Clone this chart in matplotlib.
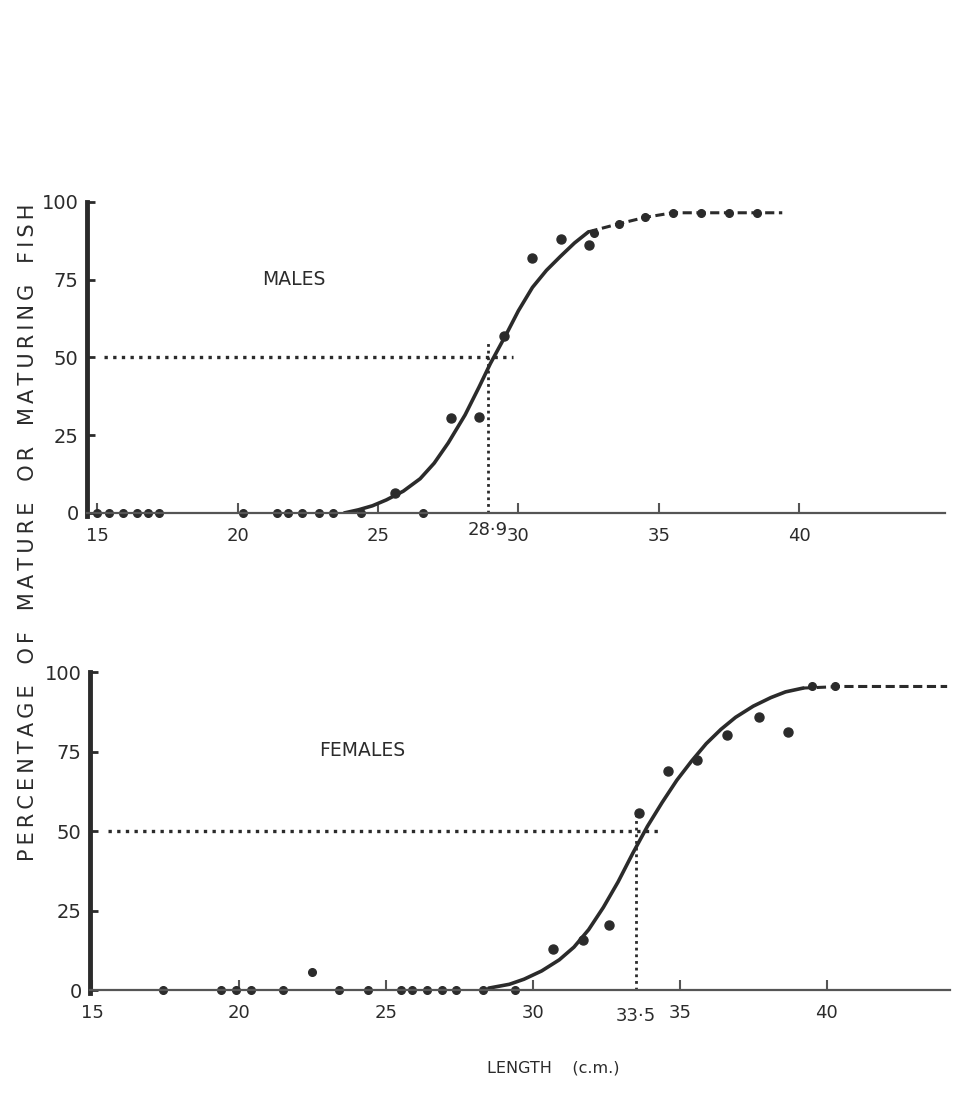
import matplotlib
matplotlib.use("Agg")
import matplotlib.pyplot as plt

# ---- data ----
# males
male_len = [25.6, 27.6, 28.6, 29.5, 30.5, 31.5, 32.5]
male_pct = [6.5, 30.5, 31.0, 57.0, 82.0, 88.0, 86.0]
male_zero_len = [15.0, 15.4, 15.9, 16.4, 16.8, 17.2, 20.2, 21.4, 21.8,
                 22.3, 22.9, 23.4, 24.4, 26.6]
male_top_len = [32.7, 33.6, 34.5, 35.5, 36.5, 37.5, 38.5]
male_top_pct = [90.0, 93.0, 95.0, 96.5, 96.5, 96.5, 96.5]
male_plateau_len = [32.5, 33.6, 34.5, 35.5, 36.5, 37.5, 38.5, 39.4]
male_plateau_pct = [90.4, 93.0, 95.0, 96.5, 96.5, 96.5, 96.5, 96.5]
male_curve_len = [23.8, 24.3, 24.8, 25.3, 25.9, 26.5, 27.0, 27.5, 28.1, 28.6,
                  29.0, 29.6, 30.0, 30.5, 31.0, 31.5, 32.0, 32.5]
male_curve_pct = [0.0, 1.0, 2.3, 4.2, 7.0, 11.0, 16.0, 22.5, 31.5, 40.5,
                  48.0, 58.0, 65.0, 72.5, 78.0, 82.5, 86.8, 90.4]
male_l50 = 28.9

# females
fem_len = [30.7, 31.7, 32.6, 33.6, 34.6, 35.6, 36.6, 37.7, 38.7]
fem_pct = [12.9, 15.7, 20.4, 55.7, 68.9, 72.3, 80.2, 85.8, 81.1]
fem_zero_len = [17.4, 19.4, 19.9, 20.4, 21.5, 23.4, 24.4, 25.5, 25.9,
                26.4, 26.9, 27.4, 28.3, 29.4]
fem_odd_len = [22.5]
fem_odd_pct = [5.7]
fem_top_len = [39.5, 40.3]
fem_top_pct = [95.5, 95.5]
fem_plateau_len = [39.2, 40.5, 42.0, 43.0, 44.1]
fem_plateau_pct = [95.0, 95.5, 95.5, 95.5, 95.5]
fem_curve_len = [28.5, 29.2, 29.7, 30.3, 30.9, 31.4, 31.9, 32.4, 32.9, 33.4,
                 33.9, 34.4, 34.9, 35.4, 35.9, 36.4, 36.9, 37.5, 38.1, 38.6, 39.2]
fem_curve_pct = [0.6, 1.8, 3.4, 6.0, 9.5, 13.5, 19.0, 26.0, 34.0, 43.0,
                 51.5, 59.0, 66.0, 72.0, 77.5, 82.0, 85.8, 89.3, 92.0, 93.8, 95.0]
fem_l50 = 33.5

yticks = [0, 25, 50, 75, 100]
xticks = [15, 20, 25, 30, 35, 40]

ink = "#2b2b2b"

fig = plt.figure(figsize=(9.62, 10.96), dpi=100)


def panel(rect, xlim, curve_x, curve_y, pts_x, pts_y, zero_x, top_x, top_y,
          plat_x, plat_y, l50, label, label_xy, l50_text):
    ax = fig.add_axes(rect)
    ax.set_xlim(*xlim)
    ax.set_ylim(0, 100)
    for s in ["top", "right"]:
        ax.spines[s].set_visible(False)
    ax.spines["left"].set_linewidth(3.5)
    ax.spines["left"].set_color(ink)
    ax.spines["left"].set_bounds(-1, 100)
    ax.spines["bottom"].set_linewidth(1.6)
    ax.spines["bottom"].set_color("#555555")
    ax.spines["bottom"].set_position(("data", 0))
    ax.spines["bottom"].set_bounds(xlim[0], xlim[1])
    ax.set_yticks(yticks)
    ax.set_yticklabels([str(t) for t in yticks])
    ax.set_xticks(xticks)
    ax.set_xticklabels([str(t) for t in xticks])
    ax.tick_params(axis="y", direction="in", length=6, width=2, color=ink,
                   labelsize=14, labelcolor=ink, pad=6)
    ax.tick_params(axis="x", direction="in", length=7, width=1.5, color="#555555",
                   labelsize=13, labelcolor=ink, pad=10)
    ax.patch.set_visible(False)
    for lab in ax.get_xticklabels() + ax.get_yticklabels():
        lab.set_clip_on(False)

    # 50% reference lines
    ax.plot([xlim[0] + 0.6, l50 + 0.9], [50, 50], ls=(0, (1, 1.6)), lw=2.4,
            color=ink, clip_on=False)
    ax.plot([l50, l50], [0, 55], ls=(0, (1, 1.4)), lw=2.0, color=ink)

    # fitted curve and plateau
    ax.plot(curve_x, curve_y, color=ink, lw=2.6, solid_capstyle="round",
            solid_joinstyle="round")
    ax.plot(plat_x, plat_y, color=ink, lw=2.2, ls=(0, (3, 1.5)))

    # observations
    ax.plot(pts_x, pts_y, "o", ms=6.5, color=ink, clip_on=False)
    ax.plot(zero_x, [0] * len(zero_x), "o", ms=5.5, color=ink, clip_on=False)
    ax.plot(top_x, top_y, "o", ms=5.5, color=ink, clip_on=False)

    ax.text(label_xy[0], label_xy[1], label, fontsize=13.5, color=ink,
            ha="center", va="center")
    ax.text(l50, l50_text, f"{l50:.1f}".replace(".", "·"), fontsize=13,
            color=ink, ha="center", va="top")
    return ax


ax1 = panel([0.0904, 0.532, 0.892, 0.2838], (14.63, 45.2),
            male_curve_len, male_curve_pct, male_len, male_pct, male_zero_len,
            male_top_len, male_top_pct, male_plateau_len, male_plateau_pct,
            male_l50, "MALES", (22.0, 75), -2.5)

ax2 = panel([0.0936, 0.0967, 0.894, 0.290], (14.93, 44.2),
            fem_curve_len, fem_curve_pct, fem_len, fem_pct, fem_zero_len,
            fem_top_len, fem_top_pct, fem_plateau_len, fem_plateau_pct,
            fem_l50, "FEMALES", (24.2, 75.5), -5.5)
ax2.plot(fem_odd_len, fem_odd_pct, "o", ms=5.5, color=ink)

# letter-spaced axis title, as in the hand-lettered original
words = ["PERCENTAGE", "OF", "MATURE", "OR", "MATURING", "FISH"]
ylabel = "\u2003".join("\u2009".join(w) for w in words)
fig.text(0.029, 0.5146, ylabel, rotation=90, ha="center", va="center",
         fontsize=15, color=ink)
fig.text(0.575, 0.026, "LENGTH    (c.m.)", ha="center", va="center",
         fontsize=11.5, color=ink)

fig.savefig("out.png", dpi=100, facecolor="white")
